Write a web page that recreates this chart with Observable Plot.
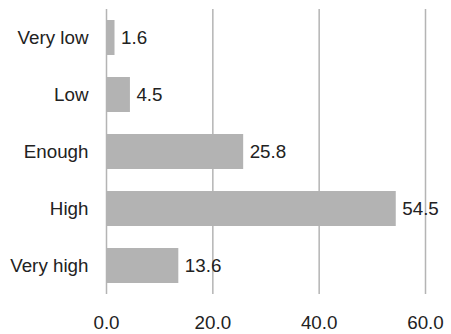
<!DOCTYPE html>
<html>
<head>
<meta charset="utf-8">
<script src="https://cdn.jsdelivr.net/npm/d3@7"></script>
<script src="https://cdn.jsdelivr.net/npm/@observablehq/plot@0.6"></script>
<style>
  html, body { margin: 0; padding: 0; background: #fff; }
  #chart svg { display: block; }
</style>
</head>
<body>
<div id="chart"></div>
<script>
// Share of responses by level (%)
const categories = ["Very low", "Low", "Enough", "High", "Very high"];
const values = [1.6, 4.5, 25.8, 54.5, 13.6];
const xTicks = [0, 20, 40, 60];

const data = categories.map((c, i) => ({category: c, value: values[i]}));

const grey = "#b3b3b3";
const font = "Liberation Sans, Arial, sans-serif";
const fs = 18.8;

const chart = Plot.plot({
  width: 451,
  height: 334,
  marginLeft: 106,
  marginRight: 26,
  marginTop: 9,
  marginBottom: 40,
  style: {fontFamily: font, fontSize: fs + "px", color: "#222", background: "#fff"},
  x: {domain: [0, 60], ticks: xTicks, tickFormat: d3.format(".1f"), label: null},
  y: {domain: categories, paddingInner: 0.386, paddingOuter: 0.193, label: null},
  marks: [
    Plot.gridX(xTicks, {stroke: "#b4b4b4", strokeOpacity: 1, strokeWidth: 1.5}),
    Plot.barX(data, {x: "value", y: "category", fill: grey}),
    Plot.text(data, {
      x: "value", y: "category", text: d => d.value.toFixed(1),
      textAnchor: "start", dx: 6, fill: "#222", fontSize: fs
    }),
    Plot.axisX(xTicks, {tickSize: 0, tickPadding: 21, tickFormat: d3.format(".1f"), fontSize: fs, fill: "#222", label: null}),
    Plot.axisY({tickSize: 0, tickPadding: 18, fontSize: fs, fill: "#222", label: null})
  ]
});

document.getElementById("chart").appendChild(chart);
</script>
</body>
</html>
